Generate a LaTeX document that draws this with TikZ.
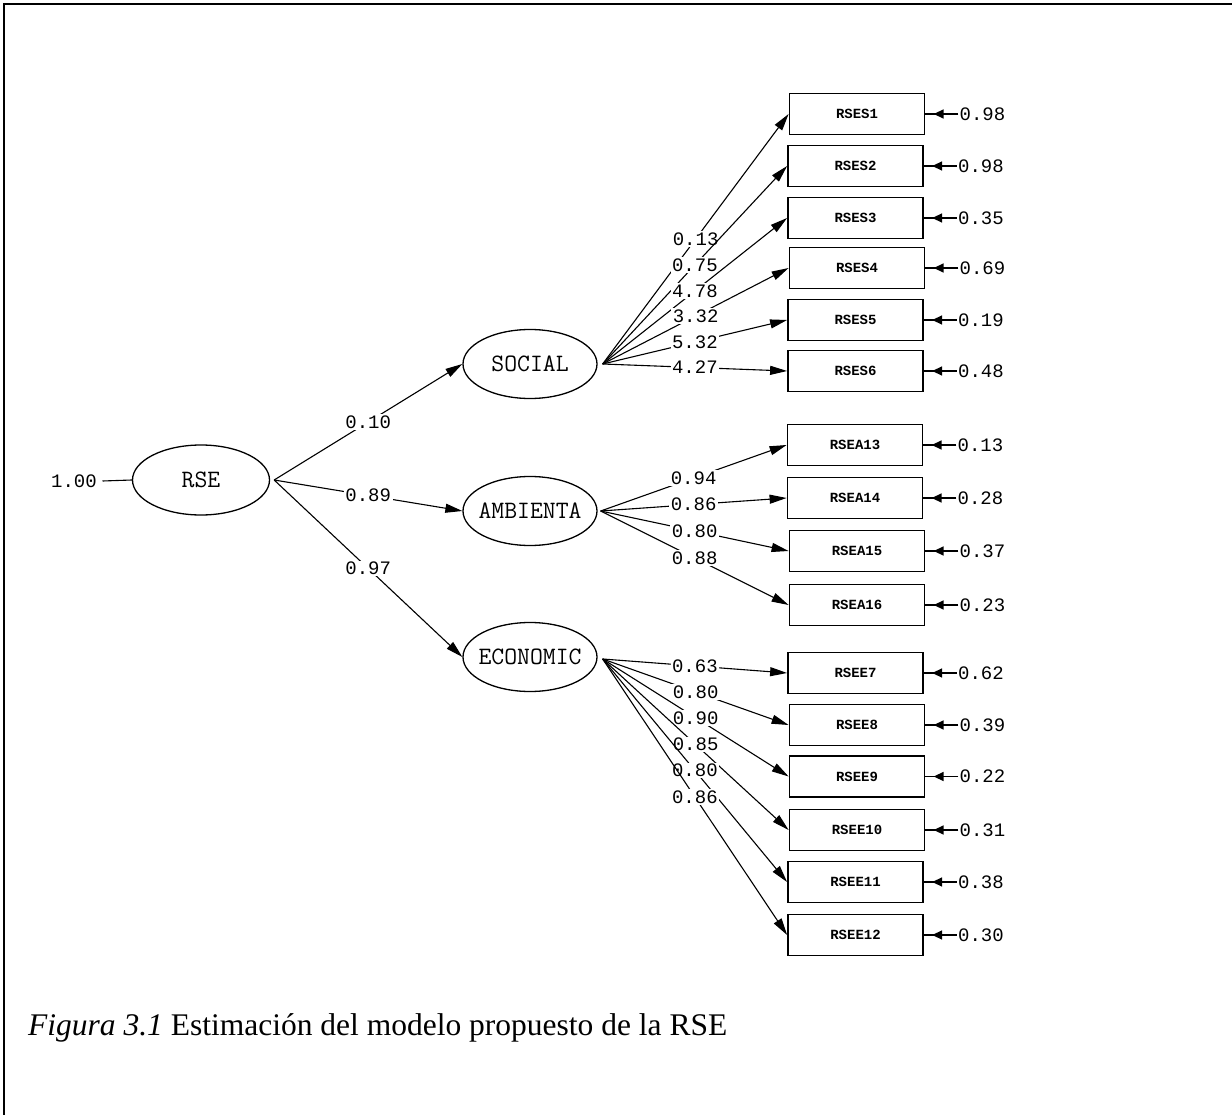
\documentclass[tikz,border=0pt]{standalone}
\usepackage{fontspec}
\setmainfont{Liberation Serif}
\newfontfamily\monofont{Liberation Mono}
\usetikzlibrary{shapes.geometric,arrows.meta,decorations.markings}

\begin{document}
\begin{tikzpicture}[x=1pt,y=-1pt,
  latent/.style={ellipse,draw,line width=1.3pt,minimum width=134pt,minimum height=69pt,inner ysep=0pt,inner xsep=-14pt,
    font=\ttfamily\fontsize{25}{25}\selectfont},
  indic/.style={draw,line width=1.8pt,minimum width=135pt,minimum height=41pt,inner sep=0pt,
    font=\monofont\bfseries\fontsize{14}{14}\selectfont},
  coef/.style={font=\monofont\fontsize{19}{19}\selectfont,fill=white,inner sep=1.5pt},
  errlab/.style={font=\monofont\fontsize{19}{19}\selectfont,inner sep=1pt,anchor=west},
  load/.style={line width=1.1pt,-{Triangle[length=17pt,width=9pt]}},
  errline/.style={line width=1.5pt,postaction={decorate},
    decoration={markings,mark=at position 0.75 with {\arrow{Triangle[length=10pt,width=9pt]}}}},
  plainline/.style={line width=1.1pt}
]
\useasboundingbox (0,0) rectangle (1232,1115);
\draw[line width=2.3pt] (4,1115) -- (4,4.2) -- (1232,4.2);

% latent variables
\node[latent,minimum width=137pt,minimum height=70pt] (RSE) at (201,480) {RSE};
\node[latent] (SOC) at (530,364) {SOCIAL};
\node[latent] (AMB) at (530,511) {AMBIENTA};
\node[latent] (ECO) at (530,657) {ECONOMIC};

\node[coef] (v) at (74,481) {1.00};
\draw[plainline] (v.east) ++(4,0) coordinate (vs) -- (RSE.west);
\coordinate (RSEo) at ([xshift=4pt]RSE.east);
\coordinate (SOCo) at ([xshift=5pt]SOC.east);
\coordinate (AMBo) at ([xshift=3pt]AMB.east);
\coordinate (ECOo) at ([xshift=5pt,yshift=-2pt]ECO.east);

\draw[load] (RSEo) -- node[coef]{0.10} (SOC.west);
\draw[load] (RSEo) -- node[coef]{0.89} (AMB.west);
\draw[load] (RSEo) -- node[coef]{0.97} (ECO.west);

% indicators
\node[indic] (S1) at (857,114) {RSES1};
\node[indic] (S2) at (855.5,166) {RSES2};
\node[indic] (S3) at (855.5,218) {RSES3};
\node[indic] (S4) at (857,268) {RSES4};
\node[indic] (S5) at (855.5,320) {RSES5};
\node[indic] (S6) at (855.5,371) {RSES6};
\node[indic] (A13) at (855,445) {RSEA13};
\node[indic] (A14) at (855,498) {RSEA14};
\node[indic] (A15) at (857,551) {RSEA15};
\node[indic] (A16) at (857,605) {RSEA16};
\node[indic] (E7) at (855.5,673) {RSEE7};
\node[indic] (E8) at (857,725) {RSEE8};
\node[indic] (E9) at (857,776.5) {RSEE9};
\node[indic] (E10) at (857,830) {RSEE10};
\node[indic] (E11) at (855.5,882) {RSEE11};
\node[indic] (E12) at (855.5,935) {RSEE12};

% loadings
\draw[load] (SOCo) -- node[coef]{0.13} (S1.west);
\draw[load] (SOCo) -- node[coef]{0.75} (S2.west);
\draw[load] (SOCo) -- node[coef]{4.78} (S3.west);
\draw[load] (SOCo) -- node[coef]{3.32} (S4.west);
\draw[load] (SOCo) -- node[coef]{5.32} (S5.west);
\draw[load] (SOCo) -- node[coef]{4.27} (S6.west);

\draw[load] (AMBo) -- node[coef]{0.94} (A13.west);
\draw[load] (AMBo) -- node[coef]{0.86} (A14.west);
\draw[load] (AMBo) -- node[coef]{0.80} (A15.west);
\draw[load] (AMBo) -- node[coef]{0.88} (A16.west);

\draw[load] (ECOo) -- node[coef]{0.63} (E7.west);
\draw[load] (ECOo) -- node[coef]{0.80} (E8.west);
\draw[load] (ECOo) -- node[coef]{0.90} (E9.west);
\draw[load] (ECOo) -- node[coef]{0.85} (E10.west);
\draw[load] (ECOo) -- node[coef]{0.80} (E11.west);
\draw[load] (ECOo) -- node[coef]{0.86} (E12.west);

% error variances
\foreach \b/\v in {S1/0.98,S2/0.98,S3/0.35,S4/0.69,S5/0.19,S6/0.48,
                   A13/0.13,A14/0.28,A15/0.37,A16/0.23,
                   E7/0.62,E8/0.39,E9/0.22,E10/0.31,E11/0.38,E12/0.30}{
  \node[errlab] (e\b) at ([xshift=33pt]\b.east) {\v};
  \draw[errline] (e\b.west) -- (\b.east);
}

% caption
\node[anchor=base west,inner sep=0pt,font=\fontsize{31.5}{31.5}\selectfont] (cap) at (28,1035)
  {\textit{Figura 3.1} Estimación del modelo propuesto de la RSE};
\end{tikzpicture}
\end{document}
